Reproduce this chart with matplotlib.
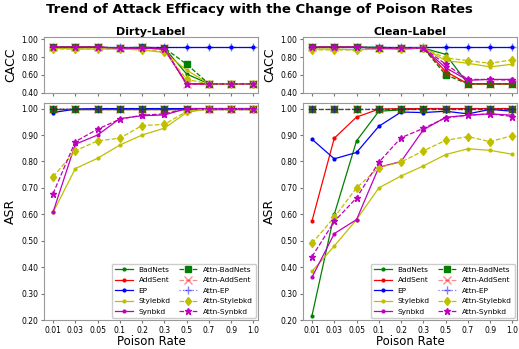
import matplotlib
matplotlib.use('Agg')
import matplotlib.pyplot as plt
import numpy as np

# ── Data ──────────────────────────────────────────────────────────
rates = ['0.01', '0.03', '0.05', '0.1', '0.2', '0.3', '0.5', '0.7', '0.9', '1.0']
methods = ['BadNets', 'AddSent', 'EP', 'Stylebkd', 'Synbkd']

# Dirty-label CACC
dirty_cacc = {
    'BadNets':       [0.91, 0.91, 0.91, 0.90, 0.90, 0.90, 0.61, 0.50, 0.50, 0.50],
    'AddSent':       [0.91, 0.91, 0.91, 0.90, 0.90, 0.89, 0.50, 0.50, 0.50, 0.50],
    'EP':            [0.91, 0.91, 0.91, 0.91, 0.91, 0.91, 0.91, 0.91, 0.91, 0.91],
    'Stylebkd':      [0.90, 0.89, 0.89, 0.89, 0.88, 0.85, 0.655, 0.50, 0.50, 0.50],
    'Synbkd':        [0.91, 0.91, 0.91, 0.90, 0.90, 0.89, 0.50, 0.50, 0.50, 0.50],
    'Attn-BadNets':  [0.91, 0.91, 0.91, 0.90, 0.91, 0.90, 0.72, 0.50, 0.50, 0.50],
    'Attn-AddSent':  [0.91, 0.91, 0.91, 0.90, 0.91, 0.90, 0.50, 0.50, 0.50, 0.50],
    'Attn-EP':       [0.91, 0.91, 0.91, 0.91, 0.91, 0.91, 0.91, 0.91, 0.91, 0.91],
    'Attn-Stylebkd': [0.89, 0.89, 0.89, 0.89, 0.88, 0.86, 0.55, 0.50, 0.50, 0.50],
    'Attn-Synbkd':   [0.91, 0.91, 0.91, 0.90, 0.90, 0.89, 0.50, 0.50, 0.50, 0.50],
}

# Clean-label CACC
clean_cacc = {
    'BadNets':       [0.91, 0.91, 0.91, 0.91, 0.90, 0.90, 0.83, 0.50, 0.50, 0.50],
    'AddSent':       [0.91, 0.91, 0.91, 0.90, 0.90, 0.90, 0.64, 0.50, 0.50, 0.50],
    'EP':            [0.91, 0.91, 0.91, 0.91, 0.91, 0.91, 0.91, 0.91, 0.91, 0.91],
    'Stylebkd':      [0.89, 0.89, 0.88, 0.89, 0.89, 0.90, 0.76, 0.73, 0.69, 0.72],
    'Synbkd':        [0.91, 0.91, 0.91, 0.90, 0.89, 0.90, 0.68, 0.54, 0.55, 0.55],
    'Attn-BadNets':  [0.91, 0.91, 0.91, 0.90, 0.90, 0.90, 0.60, 0.50, 0.50, 0.50],
    'Attn-AddSent':  [0.91, 0.91, 0.91, 0.90, 0.90, 0.90, 0.62, 0.50, 0.50, 0.50],
    'Attn-EP':       [0.91, 0.91, 0.91, 0.91, 0.91, 0.91, 0.91, 0.91, 0.91, 0.91],
    'Attn-Stylebkd': [0.88, 0.88, 0.88, 0.89, 0.89, 0.90, 0.79, 0.76, 0.73, 0.77],
    'Attn-Synbkd':   [0.91, 0.91, 0.91, 0.90, 0.90, 0.90, 0.72, 0.55, 0.55, 0.54],
}

# Dirty-label ASR
dirty_asr = {
    'BadNets':       [1.00, 1.00, 1.00, 1.00, 1.00, 1.00, 1.00, 1.00, 1.00, 1.00],
    'AddSent':       [1.00, 1.00, 1.00, 1.00, 1.00, 1.00, 1.00, 1.00, 1.00, 1.00],
    'EP':            [0.985, 0.998, 1.00, 1.00, 1.00, 1.00, 1.00, 1.00, 1.00, 1.00],
    'Stylebkd':      [0.607, 0.773, 0.812, 0.862, 0.900, 0.926, 0.985, 1.00, 1.00, 1.00],
    'Synbkd':        [0.608, 0.865, 0.900, 0.962, 0.973, 0.976, 1.00, 1.00, 1.00, 1.00],
    'Attn-BadNets':  [1.00, 1.00, 1.00, 1.00, 1.00, 1.00, 1.00, 1.00, 1.00, 1.00],
    'Attn-AddSent':  [1.00, 1.00, 1.00, 1.00, 1.00, 1.00, 1.00, 1.00, 1.00, 1.00],
    'Attn-EP':       [0.998, 0.999, 0.999, 1.00, 1.00, 1.00, 1.00, 1.00, 1.00, 1.00],
    'Attn-Stylebkd': [0.742, 0.840, 0.878, 0.888, 0.936, 0.940, 0.990, 1.00, 1.00, 1.00],
    'Attn-Synbkd':   [0.678, 0.875, 0.922, 0.960, 0.975, 0.980, 1.00, 1.00, 1.00, 1.00],
}

# Clean-label ASR
clean_asr = {
    'BadNets':       [0.217, 0.600, 0.878, 0.990, 0.995, 1.00, 1.00, 1.00, 1.00, 1.00],
    'AddSent':       [0.575, 0.888, 0.968, 0.998, 1.00, 1.00, 1.00, 1.00, 1.00, 1.00],
    'EP':            [0.884, 0.810, 0.834, 0.933, 0.987, 0.985, 0.990, 0.980, 0.997, 0.990],
    'Stylebkd':      [0.384, 0.480, 0.580, 0.700, 0.745, 0.783, 0.826, 0.848, 0.842, 0.827],
    'Synbkd':        [0.362, 0.527, 0.580, 0.778, 0.800, 0.920, 0.967, 0.975, 0.980, 0.975],
    'Attn-BadNets':  [1.00, 1.00, 1.00, 1.00, 1.00, 1.00, 1.00, 1.00, 1.00, 1.00],
    'Attn-AddSent':  [1.00, 1.00, 1.00, 1.00, 1.00, 1.00, 1.00, 1.00, 1.00, 1.00],
    'Attn-EP':       [0.997, 0.997, 0.998, 0.998, 0.998, 0.998, 0.998, 0.998, 0.998, 0.998],
    'Attn-Stylebkd': [0.490, 0.589, 0.700, 0.777, 0.798, 0.840, 0.880, 0.894, 0.875, 0.898],
    'Attn-Synbkd':   [0.440, 0.573, 0.662, 0.797, 0.890, 0.925, 0.965, 0.975, 0.980, 0.970],
}

# ── Styles ────────────────────────────────────────────────────────
colors = {'BadNets': 'g', 'AddSent': 'r', 'EP': 'b', 'Stylebkd': 'y', 'Synbkd': 'm'}
attn_style = {
    'BadNets':  dict(marker='s', linestyle='--', markersize=4, alpha=1.0),
    'AddSent':  dict(marker='x', linestyle='--', markersize=6, alpha=0.45),
    'EP':       dict(marker='+', linestyle=':', markersize=6, alpha=0.5),
    'Stylebkd': dict(marker='d', linestyle='--', markersize=4.5, alpha=1.0),
    'Synbkd':   dict(marker='*', linestyle='--', markersize=4.5, alpha=1.0),
}

x = np.arange(len(rates))


def draw(ax, data, legend=False):
    for m in methods:
        ax.plot(x, data[m], color=colors[m], marker='.', markersize=4,
                linewidth=0.9, label=m)
    for m in methods:
        ax.plot(x, data['Attn-' + m], color=colors[m], linewidth=0.9,
                label='Attn-' + m, **attn_style[m])
    ax.set_xlim(-0.4, 9.2)
    ax.set_xticks(x)
    for sp in ax.spines.values():
        sp.set_color('#999999')
    ax.tick_params(labelsize=5.5, color='#777777', length=2.5, pad=1.5)
    if legend:
        ax.legend(ncol=2, fontsize=5.3, loc='lower right',
                  borderaxespad=0.3, handlelength=2.4, columnspacing=1.2,
                  labelspacing=0.6, framealpha=1.0)


fig = plt.figure(figsize=(5.19, 3.49), dpi=100)
ax1 = fig.add_axes([0.085, 0.734, 0.412, 0.159])
ax2 = fig.add_axes([0.584, 0.734, 0.412, 0.159])
ax3 = fig.add_axes([0.085, 0.083, 0.412, 0.621])
ax4 = fig.add_axes([0.584, 0.083, 0.412, 0.621])

for ax, d in [(ax1, dirty_cacc), (ax2, clean_cacc)]:
    draw(ax, d)
    ax.set_ylim(0.4, 1.02)
    ax.set_yticks([0.4, 0.6, 0.8, 1.0])
    ax.set_yticklabels(['%.2f' % v for v in [0.4, 0.6, 0.8, 1.0]])
    ax.set_xticklabels([])
    ax.set_ylabel('CACC', fontsize=9, labelpad=3)

for ax, d in [(ax3, dirty_asr), (ax4, clean_asr)]:
    draw(ax, d, legend=True)
    ax.set_ylim(0.2, 1.02)
    yt = np.arange(0.2, 1.01, 0.1)
    ax.set_yticks(yt)
    ax.set_yticklabels(['%.2f' % v for v in yt])
    ax.set_xticklabels(rates)
    ax.set_ylabel('ASR', fontsize=9, labelpad=3)
    ax.set_xlabel('Poison Rate', fontsize=8.5, labelpad=0)

ax1.set_title('Dirty-Label', fontsize=8, fontweight='bold', pad=2)
ax2.set_title('Clean-Label', fontsize=8, fontweight='bold', pad=2)
fig.suptitle('Trend of Attack Efficacy with the Change of Poison Rates',
             fontsize=9.5, fontweight='bold', y=0.99)

fig.savefig('out.png', dpi=100)
